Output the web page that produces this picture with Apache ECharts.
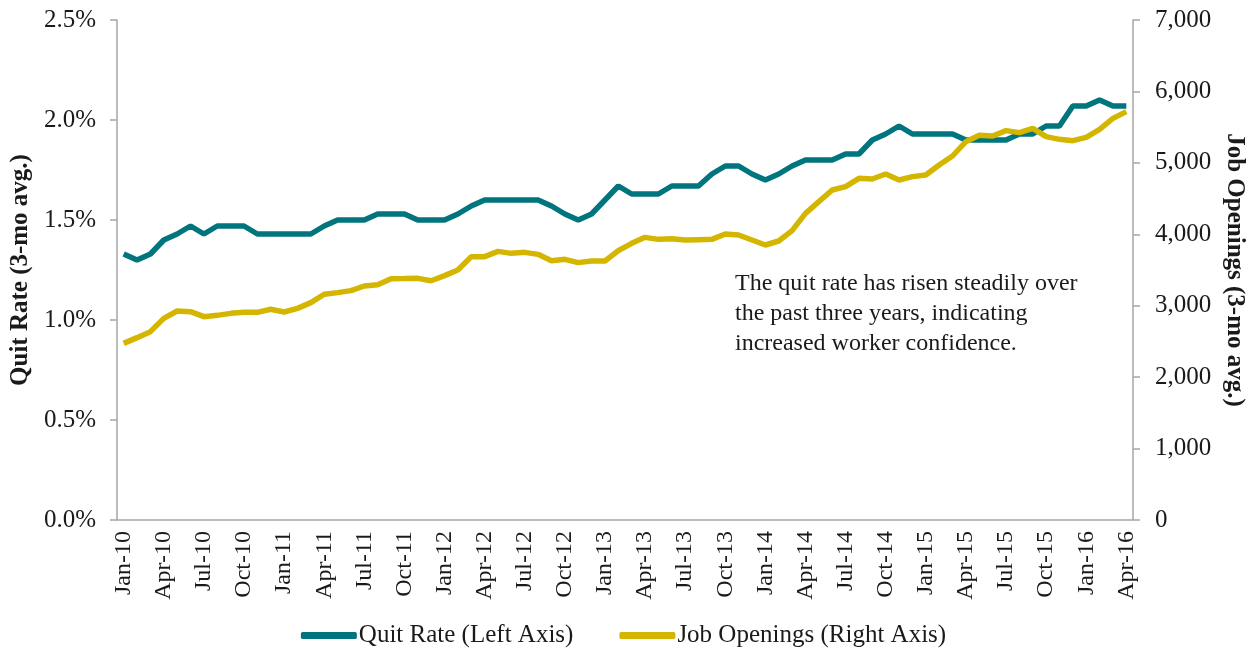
<!DOCTYPE html>
<html>
<head>
<meta charset="utf-8">
<script src="https://cdn.jsdelivr.net/npm/echarts@6/dist/echarts.min.js"></script>
<style>
  html, body { margin: 0; padding: 0; background: #fff; }
  #chart { width: 1247px; height: 655px; }
</style>
</head>
<body>
<div id="chart"></div>
<script>
// Monthly categories, Jan-10 through Apr-16
const months = ['Jan','Feb','Mar','Apr','May','Jun','Jul','Aug','Sep','Oct','Nov','Dec'];
const categories = [];
for (let y = 10; y <= 16; y++) {
  for (let m = 0; m < 12; m++) {
    if (y === 16 && m > 3) break;
    categories.push(months[m] + '-' + y);
  }
}

// Quit rate, 3-month average (%)
const quitRate = [
  1.33, 1.30, 1.33, 1.40, 1.43, 1.47, 1.43, 1.47, 1.47, 1.47, 1.43, 1.43,
  1.43, 1.43, 1.43, 1.47, 1.50, 1.50, 1.50, 1.53, 1.53, 1.53, 1.50, 1.50,
  1.50, 1.53, 1.57, 1.60, 1.60, 1.60, 1.60, 1.60, 1.57, 1.53, 1.50, 1.53,
  1.60, 1.67, 1.63, 1.63, 1.63, 1.67, 1.67, 1.67, 1.73, 1.77, 1.77, 1.73,
  1.70, 1.73, 1.77, 1.80, 1.80, 1.80, 1.83, 1.83, 1.90, 1.93, 1.97, 1.93,
  1.93, 1.93, 1.93, 1.90, 1.90, 1.90, 1.90, 1.93, 1.93, 1.97, 1.97, 2.07,
  2.07, 2.10, 2.07, 2.07
];

// Job openings, 3-month average (thousands)
const jobOpenings = [
  2473, 2553, 2637, 2823, 2926, 2917, 2847, 2865, 2893, 2907, 2907, 2950,
  2912, 2963, 3043, 3160, 3183, 3211, 3276, 3295, 3379, 3380, 3383, 3350,
  3421, 3500, 3687, 3687, 3761, 3733, 3747, 3719, 3631, 3649, 3603, 3626,
  3626, 3771, 3873, 3957, 3929, 3939, 3920, 3925, 3929, 4004, 3990, 3920,
  3850, 3906, 4051, 4293, 4457, 4620, 4667, 4783, 4774, 4844, 4760, 4807,
  4830, 4970, 5096, 5297, 5385, 5376, 5451, 5423, 5483, 5367, 5329, 5311,
  5357, 5469, 5623, 5717
];

const leftTicks = { min: 0, max: 2.5, step: 0.5 };
const rightTicks = { min: 0, max: 7000, step: 1000 };

const note = 'The quit rate has risen steadily over\nthe past three years, indicating\nincreased worker confidence.';

const FONT = '"Liberation Serif", "DejaVu Serif", serif';
const TEXT = '#1a1a1a';
const AXIS = '#a6a6a6';
const TEAL = '#00757d';
const GOLD = '#d4b600';

const chart = echarts.init(document.getElementById('chart'), null, { renderer: 'canvas' });

chart.setOption({
  animation: false,
  textStyle: { fontFamily: FONT, color: TEXT },
  grid: {
    left: 117, right: 114, top: 20, bottom: 135,
    containLabel: false,
    outerBoundsMode: 'none'
  },
  legend: {
    bottom: 2,
    left: 'center',
    itemWidth: 56,
    itemHeight: 7,
    itemGap: 46,
    icon: 'roundRect',
    textStyle: { fontFamily: FONT, fontSize: 25, color: TEXT, padding: [0, 0, 0, -3] },
    data: ['Quit Rate (Left Axis)', 'Job Openings (Right Axis)']
  },
  xAxis: {
    type: 'category',
    data: categories,
    boundaryGap: true,
    axisLine: { lineStyle: { color: AXIS, width: 1.5 } },
    axisTick: { interval: 2, length: 7, lineStyle: { color: AXIS, width: 1.5 } },
    axisLabel: {
      interval: 2,
      rotate: 90,
      margin: 11,
      fontFamily: FONT,
      fontSize: 24,
      color: TEXT
    },
    splitLine: { show: false }
  },
  yAxis: [
    {
      type: 'value',
      min: leftTicks.min,
      max: leftTicks.max,
      interval: leftTicks.step,
      name: 'Quit Rate (3-mo avg.)',
      nameLocation: 'middle',
      nameGap: 82,
      nameTextStyle: { fontFamily: FONT, fontSize: 25, fontWeight: 'bold', color: TEXT },
      axisLine: { show: true, lineStyle: { color: AXIS, width: 1.5 } },
      axisTick: { show: true, length: 7, lineStyle: { color: AXIS, width: 1.5 } },
      axisLabel: {
        margin: 21,
        fontFamily: FONT,
        fontSize: 25,
        color: TEXT,
        formatter: v => v.toFixed(1) + '%'
      },
      splitLine: { show: false }
    },
    {
      type: 'value',
      position: 'right',
      min: rightTicks.min,
      max: rightTicks.max,
      interval: rightTicks.step,
      name: 'Job Openings (3-mo avg.)',
      nameLocation: 'middle',
      nameGap: 80,
      nameRotate: -90,
      nameTextStyle: { fontFamily: FONT, fontSize: 25, fontWeight: 'bold', color: TEXT },
      axisLine: { show: true, lineStyle: { color: AXIS, width: 1.5 } },
      axisTick: { show: true, length: 7, lineStyle: { color: AXIS, width: 1.5 } },
      axisLabel: {
        margin: 22,
        fontFamily: FONT,
        fontSize: 25,
        color: TEXT,
        formatter: v => v.toLocaleString('en-US')
      },
      splitLine: { show: false }
    }
  ],
  series: [
    {
      name: 'Quit Rate (Left Axis)',
      type: 'line',
      yAxisIndex: 0,
      data: quitRate,
      symbol: 'none',
      color: TEAL,
      lineStyle: { color: TEAL, width: 5.5 }
    },
    {
      name: 'Job Openings (Right Axis)',
      type: 'line',
      yAxisIndex: 1,
      data: jobOpenings,
      symbol: 'none',
      color: GOLD,
      lineStyle: { color: GOLD, width: 5.5 }
    }
  ],
  graphic: [
    {
      type: 'text',
      left: 735,
      top: 269,
      style: {
        text: note,
        fontFamily: FONT,
        fontSize: 24,
        lineHeight: 30,
        fill: TEXT
      }
    }
  ]
});
</script>
</body>
</html>
